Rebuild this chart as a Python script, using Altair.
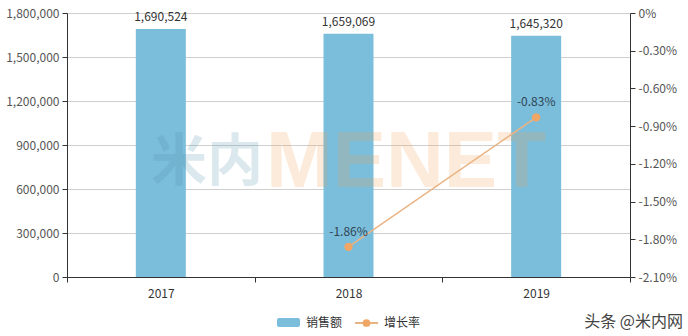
import altair as alt
import pandas as pd

# Annual sales and year-on-year growth
years = ["2017", "2018", "2019"]
sales = [1690524, 1659069, 1645320]
growth_years = ["2018", "2019"]
growth = [-1.86, -0.83]

sales_ticks = [0, 300000, 600000, 900000, 1200000, 1500000, 1800000]
growth_ticks = [0, -0.3, -0.6, -0.9, -1.2, -1.5, -1.8, -2.1]

FONT = "Noto Sans CJK SC"
BAR_COLOR = "#7bbedb"
LINE_COLOR = "#eab383"
POINT_COLOR = "#f0a664"

sales_df = pd.DataFrame({"year": years, "sales": sales})
growth_df = pd.DataFrame({
    "year": growth_years,
    "growth": growth,
    "label": [f"{g:.2f}%" for g in growth],
})

x_enc = alt.X(
    "year:N",
    sort=years,
    scale=alt.Scale(domain=years, paddingInner=0, paddingOuter=0),
    axis=alt.Axis(
        title=None, labelAngle=0, labelFontSize=12, labelColor="#333",
        labelFont=FONT, domainColor="#333", tickColor="#333",
        tickBand="extent", tickSize=5, labelPadding=6, grid=False,
    ),
)

y_sales = alt.Y(
    "sales:Q",
    scale=alt.Scale(domain=[0, 1800000], nice=False),
    axis=alt.Axis(
        title=None, values=sales_ticks,
        labelExpr="format(datum.value, ',')",
        labelFontSize=12, labelColor="#555", labelFont=FONT,
        domainColor="#333", tickColor="#333", tickSize=5, labelPadding=3,
        gridColor="#cfcfcf", gridWidth=1,
    ),
)

y_growth = alt.Y(
    "growth:Q",
    scale=alt.Scale(domain=[-2.1, 0], nice=False, zero=False),
    axis=alt.Axis(
        title=None, orient="right", values=growth_ticks,
        labelExpr="datum.value == 0 ? '0%' : replace(format(datum.value, '.2f'), '\u2212', '-') + '%'",
        labelFontSize=12, labelColor="#555", labelFont=FONT,
        domainColor="#333", tickColor="#333", tickSize=5, labelPadding=3,
        grid=False,
    ),
)

bars = alt.Chart(sales_df).mark_bar(color=BAR_COLOR, size=50).encode(
    x=x_enc, y=y_sales
)
bar_labels = alt.Chart(sales_df).mark_text(
    font=FONT, fontSize=12, color="#333", baseline="bottom", dy=-5,
).encode(
    x=x_enc,
    y=y_sales,
    text=alt.Text("sales:Q", format=","),
)

# Faint watermark over the bars
wm_cn = alt.Chart(pd.DataFrame({"t": ["米内"]})).mark_text(
    font=FONT, fontSize=56, fontWeight="bold", color="#4f8fa8", opacity=0.2,
    align="left", baseline="middle",
).encode(text="t:N", x=alt.value(84), y=alt.value(150))
wm_en = alt.Chart(pd.DataFrame({"t": ["MENET"]})).mark_text(
    font="Liberation Sans", fontSize=80, fontWeight="bold", color="#f5a04e",
    opacity=0.2, align="left", baseline="middle",
).encode(text="t:N", x=alt.value(199), y=alt.value(150))

left = alt.layer(bars, bar_labels, wm_cn, wm_en)

line = alt.Chart(growth_df).mark_line(color=LINE_COLOR, strokeWidth=1.5).encode(
    x=x_enc, y=y_growth
)
points = alt.Chart(growth_df).mark_point(
    filled=True, color=POINT_COLOR, size=70, opacity=1
).encode(x=x_enc, y=y_growth)
growth_labels = alt.Chart(growth_df).mark_text(
    font=FONT, fontSize=12, color="#2f4554", baseline="bottom", dy=-8,
).encode(x=x_enc, y=y_growth, text="label:N")
right = alt.layer(line, points, growth_labels)

# Legend and footer text
legend_rect = alt.Chart(pd.DataFrame({"k": [0]})).mark_rect(
    color=BAR_COLOR, cornerRadius=2
).encode(x=alt.value(210), x2=alt.value(233), y=alt.value(305), y2=alt.value(314))
legend_line = alt.Chart(pd.DataFrame({"k": [0]})).mark_rule(
    color=LINE_COLOR, strokeWidth=2
).encode(x=alt.value(288), x2=alt.value(311), y=alt.value(310))
legend_dot = alt.Chart(pd.DataFrame({"k": [0]})).mark_point(
    filled=True, color=POINT_COLOR, size=60, opacity=1
).encode(x=alt.value(299.5), y=alt.value(310))
legend_text = alt.Chart(
    pd.DataFrame({"t": ["销售额", "增长率"], "px": [239, 317]})
).mark_text(font=FONT, fontSize=12, color="#333", align="left", baseline="middle").encode(
    text="t:N", x=alt.X("px:Q", scale=None), y=alt.value(310)
)
footer = alt.Chart(pd.DataFrame({"t": ["头条 @米内网"]})).mark_text(
    font=FONT, fontSize=16, color="#444", align="right", baseline="middle"
).encode(text="t:N", x=alt.value(616), y=alt.value(309))
legend = alt.layer(legend_rect, legend_line, legend_dot, legend_text, footer)

chart = (
    alt.layer(left, right, legend)
    .resolve_scale(y="independent")
    .properties(
        width=563,
        height=264,
        autosize=alt.AutoSizeParams(type="none"),
        padding={"left": 67, "top": 13, "right": 58, "bottom": 59},
    )
    .configure_view(stroke=None)
    .configure(background="white")
)

chart.save("out.html", embed_options={"renderer": "svg", "actions": False})
